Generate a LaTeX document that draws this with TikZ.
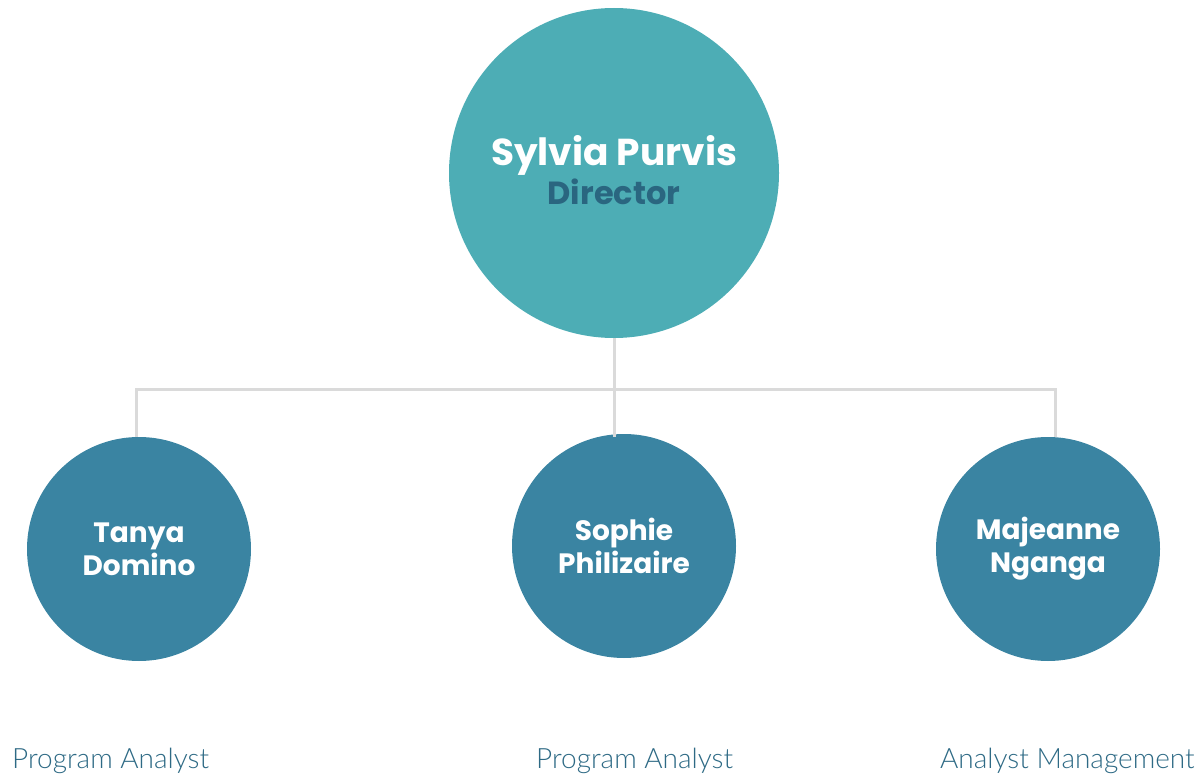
\documentclass[tikz,border=0pt]{standalone}
\usepackage{fontspec}
\setmainfont{Poppins}
\newfontfamily\labfont{Lato Light}
\definecolor{topc}{HTML}{4DADB5}
\definecolor{botc}{HTML}{3A84A2}
\definecolor{dirc}{HTML}{2A6680}
\definecolor{labc}{HTML}{2E6A85}
\definecolor{linec}{HTML}{DADADA}
\tikzset{
  x=1pt,y=-1pt,
  bigcirc/.style={circle,fill=topc,minimum size=330pt,inner sep=0pt,align=center},
  smallcirc/.style={circle,fill=botc,minimum size=224pt,inner sep=0pt,align=center,text=white,font=\bfseries\fontsize{28}{33}\selectfont},
  lab/.style={anchor=base west,inner sep=0pt,text=labc,font=\labfont\fontsize{28}{32}\selectfont},
  conn/.style={draw=linec,line width=3pt}
}
\begin{document}
\begin{tikzpicture}
\useasboundingbox (0,0) rectangle (1202,778);
\node[bigcirc] (top) at (614,173) {};
\node[text=white,font=\bfseries\fontsize{37.5}{42}\selectfont,anchor=base] (name) at (614,166) {Sylvia Purvis};
\node[text=dirc,font=\bfseries\fontsize{32}{36}\selectfont,anchor=base] (role) at (614,205) {Director};
\node[smallcirc] (a) at (139,549) {Tanya\\Domino};
\node[smallcirc] (b) at (624,546) {Sophie\\Philizaire};
\node[smallcirc] (c) at (1048,549) {Majeanne\\Nganga};
\coordinate (j) at (614,389);
\coordinate (ja) at (136,389);
\coordinate (jc) at (1055,389);
\coordinate (ea) at (136,437);
\coordinate (eb) at (614,437);
\coordinate (ec) at (1055,437);
\draw[conn] (top.south) -- (eb);
\draw[conn] (ea) -- (ja) -- (jc) -- (ec);
\node[lab] (la) at (12,768) {Program Analyst};
\node[lab] (lb) at (536,768) {Program Analyst};
\node[lab] (lc) at (940,768) {Analyst Management};
\end{tikzpicture}
\end{document}
